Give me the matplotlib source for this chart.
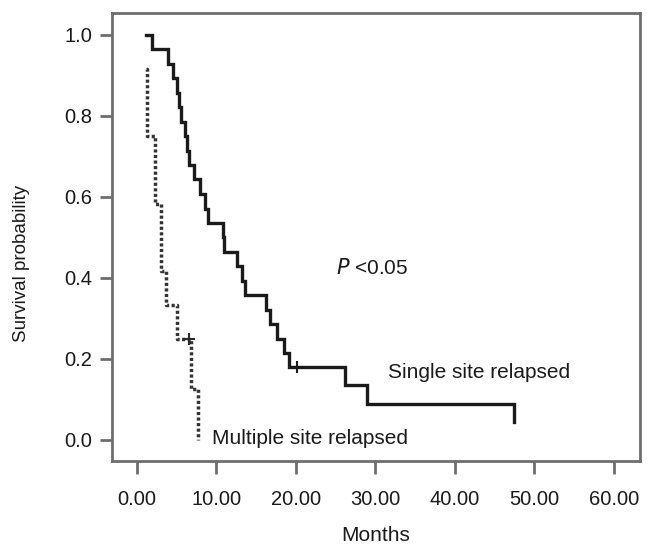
import matplotlib
matplotlib.use("Agg")
import matplotlib.pyplot as plt

plt.rcParams['font.family'] = ['Liberation Sans', 'DejaVu Sans']

# Kaplan-Meier step data (months, survival probability)
single_t = [1.2, 1.9, 3.9, 4.5, 5.1, 5.3, 5.6, 6.0, 6.3, 6.6, 7.2, 8.0, 8.6, 9.0,
            10.8, 11.0, 12.6, 13.2, 13.6, 16.3, 16.8, 17.6, 18.5, 19.2, 26.2, 28.9, 47.5]
single_s = [1.0, 0.964, 0.929, 0.893, 0.857, 0.821, 0.786, 0.75, 0.714, 0.679, 0.643,
            0.607, 0.571, 0.536, 0.5, 0.464, 0.429, 0.393, 0.357, 0.321, 0.286, 0.25,
            0.214, 0.179, 0.134, 0.089, 0.045]
single_cens_t = [20.1]
single_cens_s = [0.179]

multi_t = [1.2, 1.25, 1.3, 2.3, 3.0, 3.7, 5.1, 6.8, 7.7]
multi_s = [0.917, 0.833, 0.75, 0.583, 0.417, 0.333, 0.25, 0.125, 0.0]
multi_cens_t = [6.6]
multi_cens_s = [0.25]

x_ticks = [0, 10, 20, 30, 40, 50, 60]
y_ticks = [0.0, 0.2, 0.4, 0.6, 0.8, 1.0]

fig = plt.figure(figsize=(6.47, 5.44), dpi=100)
ax = fig.add_axes([0.173, 0.153, 0.816, 0.823])

ax.plot(single_t, single_s, drawstyle='steps-post', color='#1a1a1a', lw=2.4,
        solid_joinstyle='miter')
ax.plot(single_cens_t, single_cens_s, '+', color='#1a1a1a', ms=8, mew=1.5)

ax.plot(multi_t, multi_s, drawstyle='steps-post', color='#333333', lw=2.5,
        linestyle=(0, (0.9, 0.7)))
ax.plot(multi_cens_t, multi_cens_s, '+', color='#2a2a2a', ms=8, mew=1.5)

ax.text(25.0, 0.425, '$P$ <0.05', fontsize=15, va='center', ha='left', color='#1a1a1a')
ax.text(31.6, 0.165, 'Single site relapsed', fontsize=15, va='center', ha='left',
        color='#1a1a1a')
ax.text(9.4, 0.003, 'Multiple site relapsed', fontsize=15, va='center', ha='left',
        color='#1a1a1a')

ax.set_xlim(-3.14, 63.3)
ax.set_ylim(-0.052, 1.054)
ax.set_xticks(x_ticks)
ax.set_xticklabels([f'{v:.2f}' for v in x_ticks])
ax.set_yticks(y_ticks)
ax.set_yticklabels([f'{v:.1f}' for v in y_ticks])

for sp in ax.spines.values():
    sp.set_color('#6e6e6e')
    sp.set_linewidth(2)
ax.tick_params(axis='both', color='#6e6e6e', width=2, length=9, labelsize=14.5,
               labelcolor='#1a1a1a')
ax.tick_params(axis='x', pad=12)
ax.tick_params(axis='y', pad=5)

ax.set_xlabel('Months', fontsize=15, color='#1a1a1a')
ax.set_ylabel('Survival probability', fontsize=13.5, color='#1a1a1a')
ax.xaxis.set_label_coords(0.5, -0.145)
ax.yaxis.set_label_coords(-0.155, 0.44)

fig.savefig('out.png', dpi=100)
